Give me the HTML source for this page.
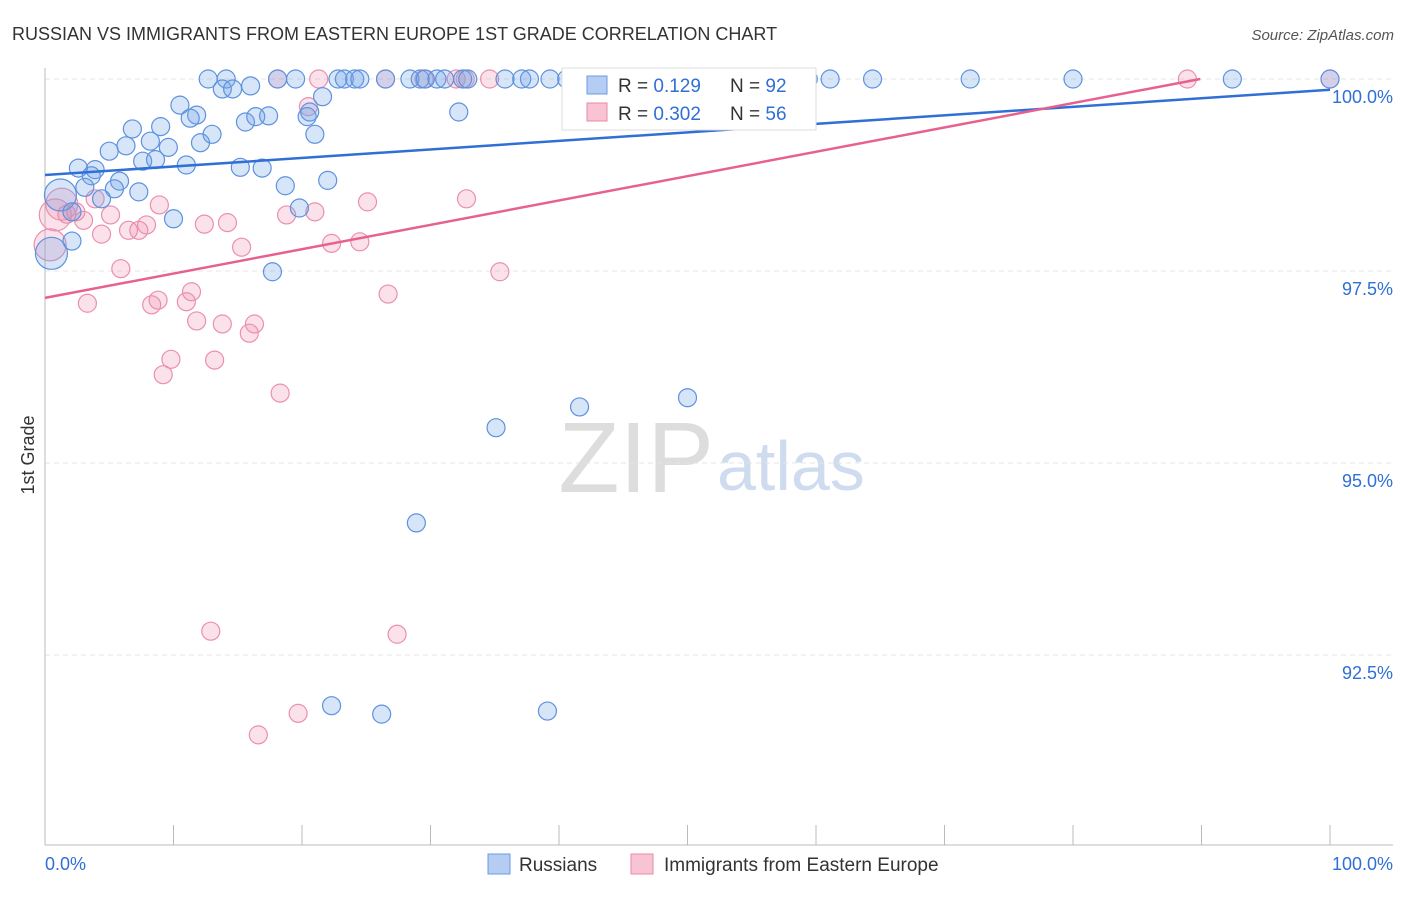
<!DOCTYPE html>
<html><head><meta charset="utf-8"><style>
body{margin:0;background:#fff;font-family:"Liberation Sans",sans-serif}
svg text{font-family:"Liberation Sans",sans-serif}
</style></head><body>
<svg width="1406" height="892" xmlns="http://www.w3.org/2000/svg">
<text x="12" y="40" font-size="18" fill="#333">RUSSIAN VS IMMIGRANTS FROM EASTERN EUROPE 1ST GRADE CORRELATION CHART</text>
<text x="1394" y="40" font-size="15" fill="#555" font-style="italic" text-anchor="end">Source: ZipAtlas.com</text>
<text x="34" y="455" font-size="18" fill="#333" transform="rotate(-90 34 455)" text-anchor="middle">1st Grade</text>
<text x="714" y="492" font-size="100" fill="#ddd" text-anchor="end" font-family="Liberation Serif">ZIP</text>
<text x="717" y="490" font-size="70" fill="#cfdcf0">atlas</text>
<g id="grid"></g><g id="axes"></g><g id="pts"></g><g id="lines"></g>
<g>
<rect x="562" y="68" width="254" height="62" fill="#fff" stroke="#ddd"/>
<rect x="587" y="76" width="20" height="18" fill="#b5cdf3" stroke="#6a9be0"/>
<text x="618" y="92" font-size="19" fill="#333">R = <tspan fill="#2f6fd6">0.129</tspan></text>
<text x="730" y="92" font-size="19" fill="#333">N = <tspan fill="#2f6fd6">92</tspan></text>
<rect x="587" y="103" width="20" height="18" fill="#f8c4d4" stroke="#e88aa8"/>
<text x="618" y="120" font-size="19" fill="#333">R = <tspan fill="#2f6fd6">0.302</tspan></text>
<text x="730" y="120" font-size="19" fill="#333">N = <tspan fill="#2f6fd6">56</tspan></text>
</g>
<g>
<rect x="488" y="854" width="22" height="20" fill="#b5cdf3" stroke="#6a9be0"/>
<text x="519" y="871" font-size="19" fill="#333">Russians</text>
<rect x="631" y="854" width="22" height="20" fill="#f8c4d4" stroke="#e88aa8"/>
<text x="664" y="871" font-size="19" fill="#333">Immigrants from Eastern Europe</text>
</g>
<text x="45" y="870" font-size="18" fill="#2f6fd6">0.0%</text>
<text x="1393" y="870" font-size="18" fill="#2f6fd6" text-anchor="end">100.0%</text>
</svg>
<script>
const yTicks=[100,97.5,95,92.5];
const yTickLabels=["100.0%","97.5%","95.0%","92.5%"];
const blueX=[12.7,14.1,18.1,19.5,22.8,23.3,24.1,24.5,26.5,28.4,29.2,29.6,30.5,31.1,32.5,32.9,35.8,37.1,37.7,39.3,40.6,47.1,52.5,59.4,61.1,64.4,72.0,80.0,92.4,100,13.8,14.6,16.0,21.6,10.5,11.8,11.3,15.6,16.4,17.4,20.4,20.6,32.2,13.0,21.0,6.8,9.0,8.2,9.6,6.3,5.0,7.6,8.6,12.1,11.0,15.2,16.9,2.6,3.9,3.6,5.8,3.1,5.4,7.3,1.2,22.0,18.7,19.8,10.0,4.4,2.1,2.1,0.5,17.7,28.9,35.1,41.6,50.0,22.3,26.2,39.1];
const blueY=[100,100,100,100,100,100,100,100,100,100,100,100,100,100,100,100,100,100,100,100,100,100,100,100,100,100,100,100,100,100,99.87,99.87,99.91,99.77,99.66,99.53,99.49,99.44,99.51,99.52,99.51,99.57,99.57,99.28,99.28,99.35,99.38,99.19,99.11,99.13,99.06,98.93,98.95,99.17,98.88,98.85,98.84,98.84,98.82,98.74,98.67,98.59,98.57,98.53,98.49,98.68,98.61,98.32,98.18,98.44,98.27,97.89,97.73,97.49,94.22,95.46,95.73,95.85,91.84,91.73,91.77];
const pinkX=[18.1,21.3,26.5,29.5,32.0,32.7,34.6,88.9,100,20.5,1.3,2.4,3.9,5.1,3.0,4.4,1.7,6.5,7.3,7.9,8.9,12.4,14.2,18.8,21.0,25.1,32.8,15.3,22.3,24.5,5.9,35.4,26.7,3.3,8.3,8.8,11.0,11.4,11.8,13.8,16.3,15.9,9.8,13.2,9.2,18.3,12.9,27.4,19.7,16.6,0.4,0.8];
const pinkY=[100,100,100,100,100,100,100,100,100,99.64,98.37,98.27,98.44,98.23,98.16,97.98,98.24,98.03,98.03,98.10,98.36,98.11,98.13,98.23,98.27,98.40,98.44,97.81,97.86,97.88,97.53,97.49,97.20,97.08,97.06,97.12,97.10,97.23,96.85,96.81,96.81,96.69,96.35,96.34,96.15,95.91,92.81,92.77,91.74,91.46,97.84,98.23];
const blueFit=[98.75,99.86];
const pinkFit=[97.15,100.32];
const xs=v=>45+v*12.85, ys=v=>79+(100-v)*76.8;
const NS="http://www.w3.org/2000/svg";
function mk(t,a,p){const e=document.createElementNS(NS,t);for(const k in a)e.setAttribute(k,a[k]);p.appendChild(e);return e;}
const grid=document.getElementById('grid');
yTicks.forEach((t,i)=>{
 const l=mk('line',{x1:45,x2:1393,y1:ys(t),y2:ys(t),stroke:'#e4e4e4','stroke-dasharray':'5,4'},grid);
 
 
 const tx=mk('text',{x:1393,y:ys(t)+24,'font-size':18,fill:'#2f6fd6','text-anchor':'end'},grid);
 tx.textContent=yTickLabels[i];
 
 
});
const ax=document.getElementById('axes');
const ya=mk('line',{x1:45,x2:45,y1:68,y2:845,stroke:'#bbb'},ax);


const xa=mk('line',{x1:45,x2:1393,y1:845,y2:845,stroke:'#bbb'},ax);


for(let i=0;i<=10;i++){
 const t=mk('line',{x1:xs(i*10),x2:xs(i*10),y1:825,y2:845,stroke:'#bbb'},ax);
 
 
}
const pts=document.getElementById('pts');
function big(x,y){return (x<1.5&&y<98.6)?16:9;}
pinkX.forEach((x,i)=>{
 const c=mk('circle',{cx:xs(x),cy:ys(pinkY[i]),r:big(x,pinkY[i]),fill:'rgba(240,140,170,0.25)',stroke:'#eb8fae','stroke-width':1.2},pts);
 
 
});
blueX.forEach((x,i)=>{
 const c=mk('circle',{cx:xs(x),cy:ys(blueY[i]),r:big(x,blueY[i]),fill:'rgba(110,160,230,0.28)',stroke:'#5d92de','stroke-width':1.2},pts);
 
 
});
const ln=document.getElementById('lines');
const bl=mk('line',{x1:xs(0),y1:ys(blueFit[0]),x2:xs(100),y2:ys(blueFit[1]),stroke:'#2f6fd6','stroke-width':2.5},ln);


const xe=(100-pinkFit[0])/((pinkFit[1]-pinkFit[0])/100);
const pl=mk('line',{x1:xs(0),y1:ys(pinkFit[0]),x2:xs(Math.min(100,xe)),y2:ys(Math.min(100,pinkFit[1])),stroke:'#e8608f','stroke-width':2.5},ln);


</script>
</body></html>
